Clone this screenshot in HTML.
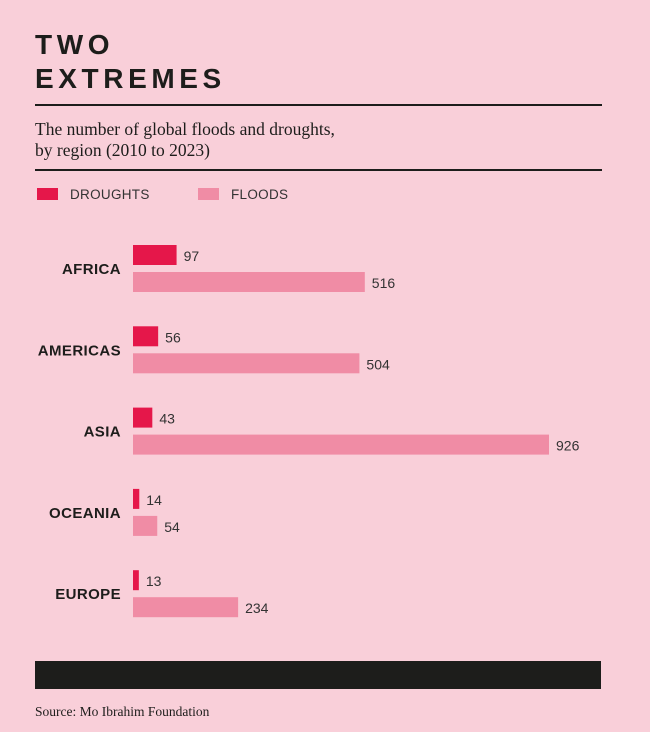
<!DOCTYPE html>
<html><head><meta charset="utf-8"><style>
body{margin:0;background:#f9cfd9;width:650px;height:732px;overflow:hidden;position:relative;font-family:"Liberation Sans",sans-serif;color:#1d1d1b}
.t{position:absolute;left:35px;font-weight:bold;font-size:28px;letter-spacing:4.6px;line-height:34px}
.rule{position:absolute;left:35px;width:567px;height:2px;background:#1d1d1b}
.sub{position:absolute;left:35px;top:119px;font-family:"Liberation Serif",serif;font-size:17.5px;line-height:21px}
.lg{position:absolute;top:187px;font-size:13.5px;letter-spacing:.3px;color:#333}
.sw{position:absolute;top:188px;width:21px;height:12px}
</style></head><body>
<div class="t" style="top:28px">TWO<br>EXTREMES</div>
<div class="rule" style="top:104px"></div>
<div class="sub">The number of global floods and droughts,<br>by region (2010 to 2023)</div>
<div class="rule" style="top:169px"></div>
<div class="sw" style="left:37px;background:#e5174a"></div>
<div class="lg" style="left:70px">DROUGHTS</div>
<div class="sw" style="left:198px;background:#f08ca5"></div>
<div class="lg" style="left:231px">FLOODS</div>
<svg id="c" width="650" height="732" style="position:absolute;left:0;top:0"></svg>
<div style="position:absolute;left:35px;top:661px;width:566px;height:28px;background:#1d1d1b"></div>
<div style="position:absolute;left:35px;top:704px;font-family:'Liberation Serif',serif;font-size:13.5px">Source: Mo Ibrahim Foundation</div>
<script>
const regions=["AFRICA","AMERICAS","ASIA","OCEANIA","EUROPE"];
const droughts=[97,56,43,14,13];
const floods=[516,504,926,54,234];
const NS="http://www.w3.org/2000/svg";
const svg=document.getElementById('c');
const x0=133,scale=416/926;
const xw=v=>v*scale;
const gy=i=>245+i*81.3;
function mk(tag,attrs){const e=document.createElementNS(NS,tag);for(const k in attrs)e.setAttribute(k,attrs[k]);svg.appendChild(e);return e;}
regions.forEach((r,i)=>{
  const y=gy(i);
  const l=mk('text',{x:121,y:y+29,'text-anchor':'end','font-size':15,'font-weight':'bold','letter-spacing':'0.4','fill':'#1d1d1b','font-family':'Liberation Sans, sans-serif'});
  l.textContent=r;
  
  
  const d=mk('rect',{x:x0,y:y,width:xw(droughts[i]),height:20,fill:'#e5174a'});
  
  
  const dv=mk('text',{x:x0+xw(droughts[i])+7,y:y+16,'font-size':14,fill:'#333','font-family':'Liberation Sans, sans-serif'});
  dv.textContent=droughts[i];
  
  
  const f=mk('rect',{x:x0,y:y+27,width:xw(floods[i]),height:20,fill:'#f08ca5'});
  
  
  const fv=mk('text',{x:x0+xw(floods[i])+7,y:y+43,'font-size':14,fill:'#333','font-family':'Liberation Sans, sans-serif'});
  fv.textContent=floods[i];
  
  
});
</script>
</body></html>
